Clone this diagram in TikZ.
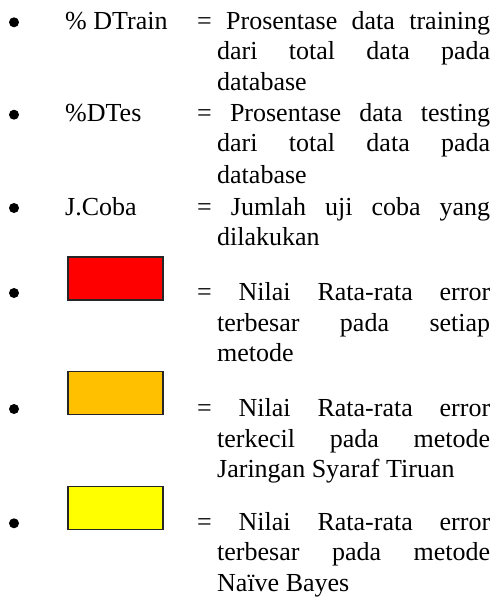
\documentclass[tikz,border=0pt]{standalone}
\usepackage{fontspec}
\setmainfont{Liberation Serif}
% justified lines of the explanation column
\newcommand\eqline[1]{\makebox[293pt][s]{#1}}
\newcommand\contline[1]{\makebox[273pt][s]{#1}}
\tikzset{
  txt/.style={anchor=base west, inner sep=0pt, font=\fontsize{26}{30}\selectfont},
  bul/.style={circle, fill=black, inner sep=0pt, minimum size=10pt},
  swatch/.style={draw=black!85, line width=1.4pt, minimum width=95pt,
                 minimum height=43pt, anchor=north west, inner sep=0pt}
}
\definecolor{swRed}{HTML}{FF0000}
\definecolor{swOrange}{HTML}{FFC000}
\definecolor{swYellow}{HTML}{FFFF00}
\begin{document}
\begin{tikzpicture}[x=1pt,y=-1pt]
\useasboundingbox (0,0) rectangle (494,597);

% % DTrain
\node[bul] (b1) at (14,22.3) {};
\node[txt] (k1) at (65,29.3) {\% DTrain};
\node[txt] (t1a) at (197,29.3) {\eqline{= Prosentase data training}};
\node[txt] (t1b) at (217,59.3) {\contline{dari total data pada}};
\node[txt] (t1c) at (217,90) {database};

% %DTes
\node[bul] (b2) at (14,114.7) {};
\node[txt] (k2) at (65,121.7) {\%DTes};
\node[txt] (t2a) at (197,121.7) {\eqline{= Prosentase data testing}};
\node[txt] (t2b) at (217,151.7) {\contline{dari total data pada}};
\node[txt] (t2c) at (217,183.3) {database};

% J.Coba
\node[bul] (b3) at (14,208) {};
\node[txt] (k3) at (65,215) {J.Coba};
\node[txt] (t3a) at (197,215) {\eqline{= Jumlah uji coba yang}};
\node[txt] (t3b) at (217,245.7) {dilakukan};

% red swatch
\node[bul] (b4) at (14,293) {};
\node[swatch, fill=swRed] (s4) at (67.3,256.3) {};
\node[txt] (t4a) at (197,300) {\eqline{= Nilai Rata-rata error}};
\node[txt] (t4b) at (217,331.3) {\contline{terbesar pada setiap}};
\node[txt] (t4c) at (217,361.3) {metode};

% orange swatch
\node[bul] (b5) at (14,409) {};
\node[swatch, fill=swOrange] (s5) at (67.3,371) {};
\node[txt] (t5a) at (197,416) {\eqline{= Nilai Rata-rata error}};
\node[txt] (t5b) at (217,447) {\contline{terkecil pada metode}};
\node[txt] (t5c) at (217,477) {Jaringan Syaraf Tiruan};

% yellow swatch
\node[bul] (b6) at (14,523.3) {};
\node[swatch, fill=swYellow] (s6) at (67.3,486) {};
\node[txt] (t6a) at (197,530.3) {\eqline{= Nilai Rata-rata error}};
\node[txt] (t6b) at (217,560.3) {\contline{terbesar pada metode}};
\node[txt] (t6c) at (217,591) {Naïve Bayes};
\end{tikzpicture}
\end{document}
